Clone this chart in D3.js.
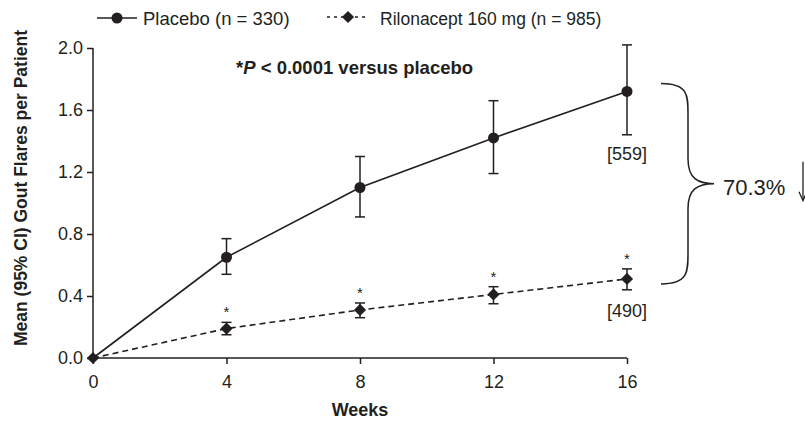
<!DOCTYPE html>
<html>
<head>
<meta charset="utf-8">
<script src="https://cdn.jsdelivr.net/npm/d3@7"></script>
<style>
body { margin: 0; background: #fff; }
text { font-family: "Liberation Sans", Arial, sans-serif; fill: #231f20; }
</style>
</head>
<body>
<section id="grafico"></section>
<script>
const weeks = [0, 4, 8, 12, 16];
const placeboMean = [0, 0.65, 1.10, 1.42, 1.72];
const placeboLow  = [0, 0.54, 0.91, 1.19, 1.44];
const placeboHigh = [0, 0.77, 1.30, 1.66, 2.02];
const riloMean = [0, 0.19, 0.31, 0.41, 0.51];
const riloLow  = [0, 0.15, 0.26, 0.35, 0.44];
const riloHigh = [0, 0.23, 0.355, 0.46, 0.575];
const yTicks = [0, 0.4, 0.8, 1.2, 1.6, 2.0];

const width = 805;
const height = 423;
const ink = "#231f20";

const svg = d3.select("section#grafico")
    .append("svg")
    .attr("width", width)
    .attr("height", height);

const xScale = d3.scaleLinear().domain([0, 16]).range([93, 627]);
const yScale = d3.scaleLinear().domain([0, 2.0]).range([358, 48]);

// axes
const xAxis = d3.axisBottom(xScale).tickValues(weeks).tickSize(6).tickPadding(11).tickFormat(d3.format("d"));
const yAxis = d3.axisLeft(yScale).tickValues(yTicks).tickSize(6).tickPadding(4).tickFormat(d3.format(".1f"));

const gx = svg.append("g").attr("transform", `translate(0,${yScale(0)})`).call(xAxis);
const gy = svg.append("g").attr("transform", `translate(${xScale(0)},0)`).call(yAxis);
[gx, gy].forEach(g => {
    g.select(".domain").attr("stroke", ink).attr("stroke-width", 1.5);
    g.selectAll(".tick line").attr("stroke", ink).attr("stroke-width", 1.5);
    g.selectAll(".tick text").attr("font-size", 18).attr("fill", ink)
        .style("font-family", "Liberation Sans, Arial, sans-serif");
});
gx.select(".domain").attr("d", `M${xScale(0)},0H${xScale(16)}`);
gy.select(".domain").attr("d", `M0,${yScale(2.0)}V${yScale(0)}`);

// axis titles
svg.append("text")
    .attr("x", xScale(8)).attr("y", 416)
    .attr("text-anchor", "middle")
    .attr("font-size", 18).attr("font-weight", "bold")
    .text("Weeks");
svg.append("text")
    .attr("transform", `translate(27,188) rotate(-90)`)
    .attr("text-anchor", "middle")
    .attr("font-size", 17.5).attr("font-weight", "bold")
    .text("Mean (95% CI) Gout Flares per Patient");

// error bars
function errBars(lo, hi, cls) {
    const g = svg.append("g").attr("class", cls).attr("stroke", ink).attr("stroke-width", 1.5);
    weeks.forEach((w, i) => {
        if (i === 0) return;
        const x = xScale(w);
        g.append("line").attr("x1", x).attr("x2", x).attr("y1", yScale(lo[i])).attr("y2", yScale(hi[i]));
        g.append("line").attr("x1", x - 5).attr("x2", x + 5).attr("y1", yScale(lo[i])).attr("y2", yScale(lo[i]));
        g.append("line").attr("x1", x - 5).attr("x2", x + 5).attr("y1", yScale(hi[i])).attr("y2", yScale(hi[i]));
    });
}
errBars(placeboLow, placeboHigh, "err-placebo");
errBars(riloLow, riloHigh, "err-rilo");

// lines
const line = d3.line().x((d, i) => xScale(weeks[i])).y(d => yScale(d));
svg.append("path").datum(placeboMean)
    .attr("d", line).attr("fill", "none").attr("stroke", ink).attr("stroke-width", 1.6);
svg.append("path").datum(riloMean)
    .attr("d", line).attr("fill", "none").attr("stroke", ink).attr("stroke-width", 1.6)
    .attr("stroke-dasharray", "6,4");

// markers
const diamond = d3.symbol().type(d3.symbolDiamond2).size(95);
svg.selectAll("circle.placebo")
    .data(placeboMean.slice(1))
    .enter().append("circle")
    .attr("class", "placebo")
    .attr("cx", (d, i) => xScale(weeks[i + 1]))
    .attr("cy", d => yScale(d))
    .attr("r", 5.5).attr("fill", ink);
svg.selectAll("path.rilo")
    .data(riloMean)
    .enter().append("path")
    .attr("class", "rilo")
    .attr("d", diamond)
    .attr("transform", (d, i) => `translate(${xScale(weeks[i])},${yScale(d)})`)
    .attr("fill", ink);

// significance asterisks
svg.selectAll("text.star")
    .data(riloHigh.slice(1))
    .enter().append("text")
    .attr("class", "star")
    .attr("x", (d, i) => xScale(weeks[i + 1]))
    .attr("y", d => yScale(d) - 5)
    .attr("text-anchor", "middle")
    .attr("font-size", 15)
    .text("*");

// n labels
svg.append("text").attr("x", xScale(16)).attr("y", yScale(placeboLow[4]) + 25)
    .attr("text-anchor", "middle").attr("font-size", 18).text("[559]");
svg.append("text").attr("x", xScale(16)).attr("y", yScale(riloLow[4]) + 27)
    .attr("text-anchor", "middle").attr("font-size", 18).text("[490]");

// p-value note
const note = svg.append("text").attr("x", 236).attr("y", 74)
    .attr("font-size", 18.5).attr("font-weight", "bold");
note.append("tspan").text("*");
note.append("tspan").attr("font-style", "italic").text("P");
note.append("tspan").text(" < 0.0001 versus placebo");

// brace
const bTop = yScale(placeboMean[4]) - 8, bBot = yScale(riloMean[4]) + 5;
const bMid = (bTop + bBot) / 2;
const bx0 = 661, bx1 = 688, bx2 = 714;
svg.append("path")
    .attr("d", `M${bx0},${bTop} C${bx1},${bTop} ${bx1},${bTop + 12} ${bx1},${bTop + 30}
        L${bx1},${bMid - 25} C${bx1},${bMid - 5} ${bx1 + 10},${bMid} ${bx2},${bMid}
        C${bx1 + 10},${bMid} ${bx1},${bMid + 5} ${bx1},${bMid + 25}
        L${bx1},${bBot - 30} C${bx1},${bBot - 12} ${bx1},${bBot} ${bx0},${bBot}`)
    .attr("fill", "none").attr("stroke", ink).attr("stroke-width", 1.5);
svg.append("text").attr("x", 723).attr("y", bMid + 11)
    .attr("font-size", 22).text("70.3%");
svg.append("line").attr("x1", 803).attr("x2", 803).attr("y1", bMid - 22).attr("y2", bMid + 16)
    .attr("stroke", ink).attr("stroke-width", 1.3);
svg.append("path").attr("d", `M799,${bMid + 8} L803,${bMid + 17} L807,${bMid + 8}`)
    .attr("fill", "none").attr("stroke", ink).attr("stroke-width", 1.3);

// legend
const lg = svg.append("g");
lg.append("line").attr("x1", 97).attr("x2", 137).attr("y1", 18).attr("y2", 18)
    .attr("stroke", ink).attr("stroke-width", 1.6);
lg.append("circle").attr("cx", 117).attr("cy", 18).attr("r", 5.5).attr("fill", ink);
lg.append("text").attr("x", 143).attr("y", 25).attr("font-size", 18.5).text("Placebo (n = 330)");
lg.append("line").attr("x1", 327).attr("x2", 369).attr("y1", 17).attr("y2", 17)
    .attr("stroke", ink).attr("stroke-width", 1.3).attr("stroke-dasharray", "3,4");
lg.append("path").attr("d", diamond).attr("transform", "translate(348,17)").attr("fill", ink);
lg.append("text").attr("x", 380).attr("y", 25).attr("font-size", 17.5).text("Rilonacept 160 mg (n = 985)");
</script>
</body>
</html>
